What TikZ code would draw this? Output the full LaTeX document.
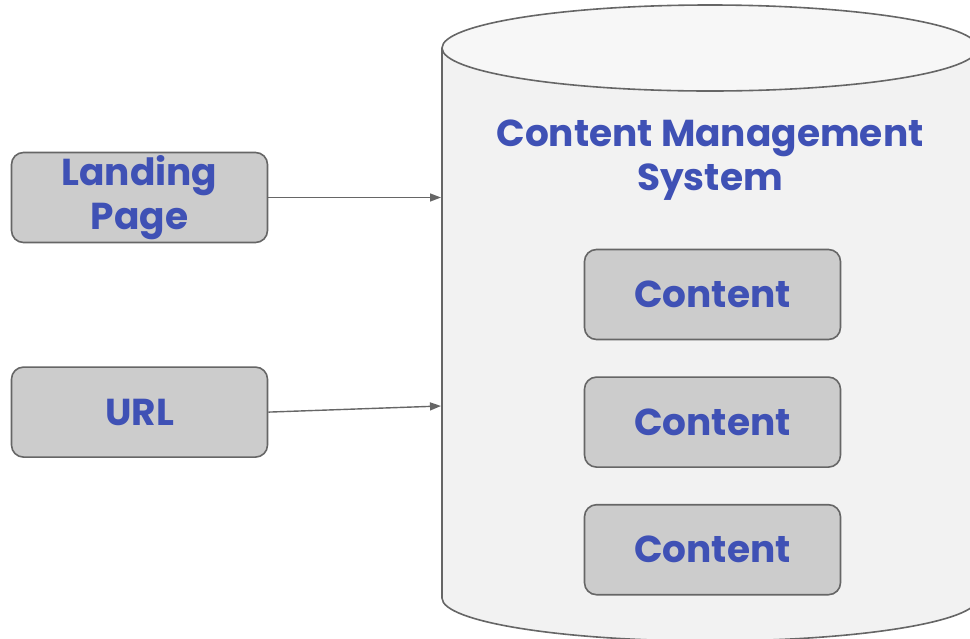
\documentclass[tikz,border=0pt]{standalone}
\usepackage{fontspec}
\setmainfont{Poppins}
\usepackage{tikz}
\usetikzlibrary{arrows.meta, positioning}
\definecolor{boxgray}{HTML}{CCCCCC}
\definecolor{edgegray}{HTML}{666666}
\definecolor{dbbody}{HTML}{F2F2F2}
\definecolor{dbtop}{HTML}{F7F7F7}
\definecolor{labelblue}{HTML}{3F51B5}
\begin{document}
\begin{tikzpicture}[x=1pt, y=-1pt,
    card/.style={draw=edgegray, line width=1.6pt, fill=boxgray, rounded corners=12pt,
        minimum width=256pt, minimum height=90pt, inner sep=0pt, align=center,
        text=labelblue, font=\fontsize{37.5}{44}\selectfont\bfseries},
    flow/.style={draw=edgegray, line width=1.4pt, -{Triangle[length=11pt, width=8pt]}}]
    \clip (0,0) rectangle (970,638);

    % database cylinder
    \draw[edgegray, line width=1.6pt, fill=dbbody] (442,48) -- (442,598)
        arc[start angle=180, end angle=360, x radius=268pt, y radius=43pt] -- (978,48);
    \draw[edgegray, line width=1.6pt, fill=dbtop] (710,48) ellipse[x radius=268pt, y radius=43pt];
    \node[text=labelblue, align=center, font=\fontsize{37.5}{44}\selectfont\bfseries] (cms) at (710,160) {Content Management\\System};

    \node[card] (c1) at (712.5,294.5) {Content};
    \node[card, below=36pt of c1] (c2) {Content};
    \node[card, below=36pt of c2] (c3) {Content};

    % inputs
    \node[card] (landing) at (139.5,197.5) {Landing\\Page};
    \node[card, below=123pt of landing] (url) {URL};

    \coordinate (in1) at (441,197.5);
    \coordinate (in2) at (441,406);
    \draw[flow] (landing.east) -- (in1);
    \draw[flow] (url.east) -- (in2);
\end{tikzpicture}
\end{document}
